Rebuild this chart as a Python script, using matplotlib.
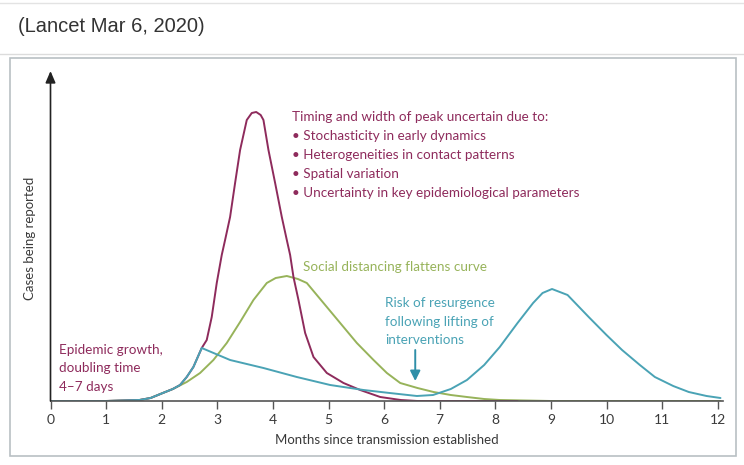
import numpy as np
import matplotlib.pyplot as plt
from matplotlib.patches import Rectangle
from matplotlib.lines import Line2D

# curve points (months, relative case height)
peak_months = [0.0, 1.0, 1.6, 1.8, 2.02, 2.2, 2.33, 2.45, 2.57, 2.72, 2.81, 2.90, 2.99,
               3.08, 3.14, 3.23, 3.32, 3.41, 3.53, 3.62, 3.70, 3.78, 3.83, 3.92,
               4.04, 4.16, 4.25, 4.31, 4.37, 4.46, 4.58, 4.73, 4.97, 5.27, 5.57,
               5.93, 6.3, 6.6, 7.5, 8.4]
peak_cases = [0, 0, 1, 3, 8, 12, 16, 24, 34, 53, 61, 84, 118,
              146, 161, 184, 218, 251, 281, 288, 289, 286, 281, 251,
              218, 184, 161, 146, 124, 101, 68, 44, 28, 18, 11,
              4, 1, 0, 0, 0]

flat_months = [0.0, 1.0, 1.6, 1.8, 2.02, 2.2, 2.45, 2.69, 2.93, 3.17, 3.41, 3.65,
               3.89, 4.05, 4.25, 4.45, 4.61, 4.91, 5.21, 5.51, 5.81, 6.05, 6.29,
               6.6, 6.89, 7.2, 7.49, 7.8, 8.08, 9.0, 10.0, 11.0, 12.05]
flat_cases = [0, 0, 1, 3, 8, 12, 19, 28, 41, 58, 79, 101,
              118, 123, 125, 122, 118, 98, 78, 58, 41, 28, 18,
              13, 9, 6, 4, 2, 1, 0, 0, 0, 0]

rebound_months = [0.0, 1.0, 1.6, 1.8, 2.02, 2.2, 2.33, 2.45, 2.57, 2.72, 3.23, 3.83,
                  4.43, 5.03, 5.63, 6.1, 6.59, 6.88, 7.2, 7.49, 7.8, 8.08, 8.4,
                  8.68, 8.85, 9.02, 9.3, 9.68, 10.0, 10.28, 10.6, 10.87, 11.2,
                  11.48, 11.8, 12.05]
rebound_cases = [0, 0, 1, 3, 8, 12, 16, 24, 34, 53, 41, 33,
                 24, 16, 11, 8, 5, 6, 12, 21, 36, 54, 78,
                 98, 108, 112, 106, 84, 66, 51, 36, 24, 15,
                 9, 5, 3]

month_ticks = list(range(0, 13))

bullets = ["Timing and width of peak uncertain due to:",
           "\u2022 Stochasticity in early dynamics",
           "\u2022 Heterogeneities in contact patterns",
           "\u2022 Spatial variation",
           "\u2022 Uncertainty in key epidemiological parameters"]
resurgence_lines = ["Risk of resurgence", "following lifting of", "interventions"]
growth_lines = ["Epidemic growth,", "doubling time", "4\u20137 days"]

magenta = "#8e2b5c"
green = "#97b35a"
teal = "#4aa3b5"
ink = "#3a3a3a"

W, H = 744, 465
fig = plt.figure(figsize=(W / 100, H / 100), dpi=100)
fig.patch.set_facecolor("white")

# page decoration: header rules, title and the framed figure box
fig.add_artist(Line2D([0, 1], [1 - 3 / H, 1 - 3 / H], color="#e3e3e3", lw=1))
fig.add_artist(Line2D([0, 1], [1 - 54 / H, 1 - 54 / H], color="#dcdcdc", lw=1))
fig.text(18 / W, 1 - 27 / H, "(Lancet Mar 6, 2020)", fontsize=14.5,
         family="Liberation Sans", color="#333333", va="center")
fig.add_artist(Rectangle((10 / W, 1 - 456 / H), 726 / W, 398 / H,
                         fill=False, ec="#b9c0c4", lw=1.2))

px_per_month = 55.6
x0 = 50.5
base = 401
ax = fig.add_axes([x0 / W, (H - base) / H, 12.1 * px_per_month / W, 330 / H])
ax.set_xlim(0, 12.1)
ax.set_ylim(0, 330)
ax.patch.set_alpha(0)

line_kw = dict(lw=1.4, solid_joinstyle="round", solid_capstyle="round")
ax.plot(flat_months, flat_cases, color=green, **line_kw)
ax.plot(peak_months, peak_cases, color=magenta, **line_kw)
ax.plot(rebound_months, rebound_cases, color=teal, **line_kw)

for s in ["top", "right", "left"]:
    ax.spines[s].set_visible(False)
ax.spines["bottom"].set_color("#555555")
ax.spines["bottom"].set_linewidth(1.2)
ax.set_yticks([])
ax.set_xticks(month_ticks)
ax.tick_params(axis="x", direction="out", length=6, width=1, color="#555555",
               labelsize=10, labelcolor=ink, pad=3)
for lab in ax.get_xticklabels():
    lab.set_family("Lato")

# y axis with arrow head
ax.annotate("", xy=(0, 330), xytext=(0, 0), xycoords="data",
            arrowprops=dict(arrowstyle="-|>,head_length=0.7,head_width=0.3",
                            color="#222222", lw=1.2, shrinkA=0, shrinkB=0),
            annotation_clip=False)

ax.set_xlabel("Months since transmission established", family="Lato",
              fontsize=9.5, color=ink, labelpad=6)
fig.text(30 / W, 1 - 238 / H, "Cases being reported", rotation=90, family="Lato",
         fontsize=9.5, color=ink, ha="center", va="center")

# annotations
txt_kw = dict(family="Lato", fontsize=9.7, va="center")
for i, line in enumerate(bullets):
    ax.text(4.34, 284 - i * 18.9, line, color=magenta, **txt_kw)
ax.text(4.54, 134, "Social distancing flattens curve", color=green, **txt_kw)
for i, line in enumerate(resurgence_lines):
    ax.text(6.02, 98 - i * 18.5, line, color=teal, **txt_kw)
for i, line in enumerate(growth_lines):
    ax.text(0.16, 51 - i * 18.5, line, color=magenta, **txt_kw)
ax.annotate("", xy=(6.56, 20), xytext=(6.56, 51),
            arrowprops=dict(arrowstyle="-|>,head_length=0.6,head_width=0.3",
                            color="#2f8fa8", lw=1.4, shrinkA=0, shrinkB=0))

fig.savefig("out.png", dpi=100)
